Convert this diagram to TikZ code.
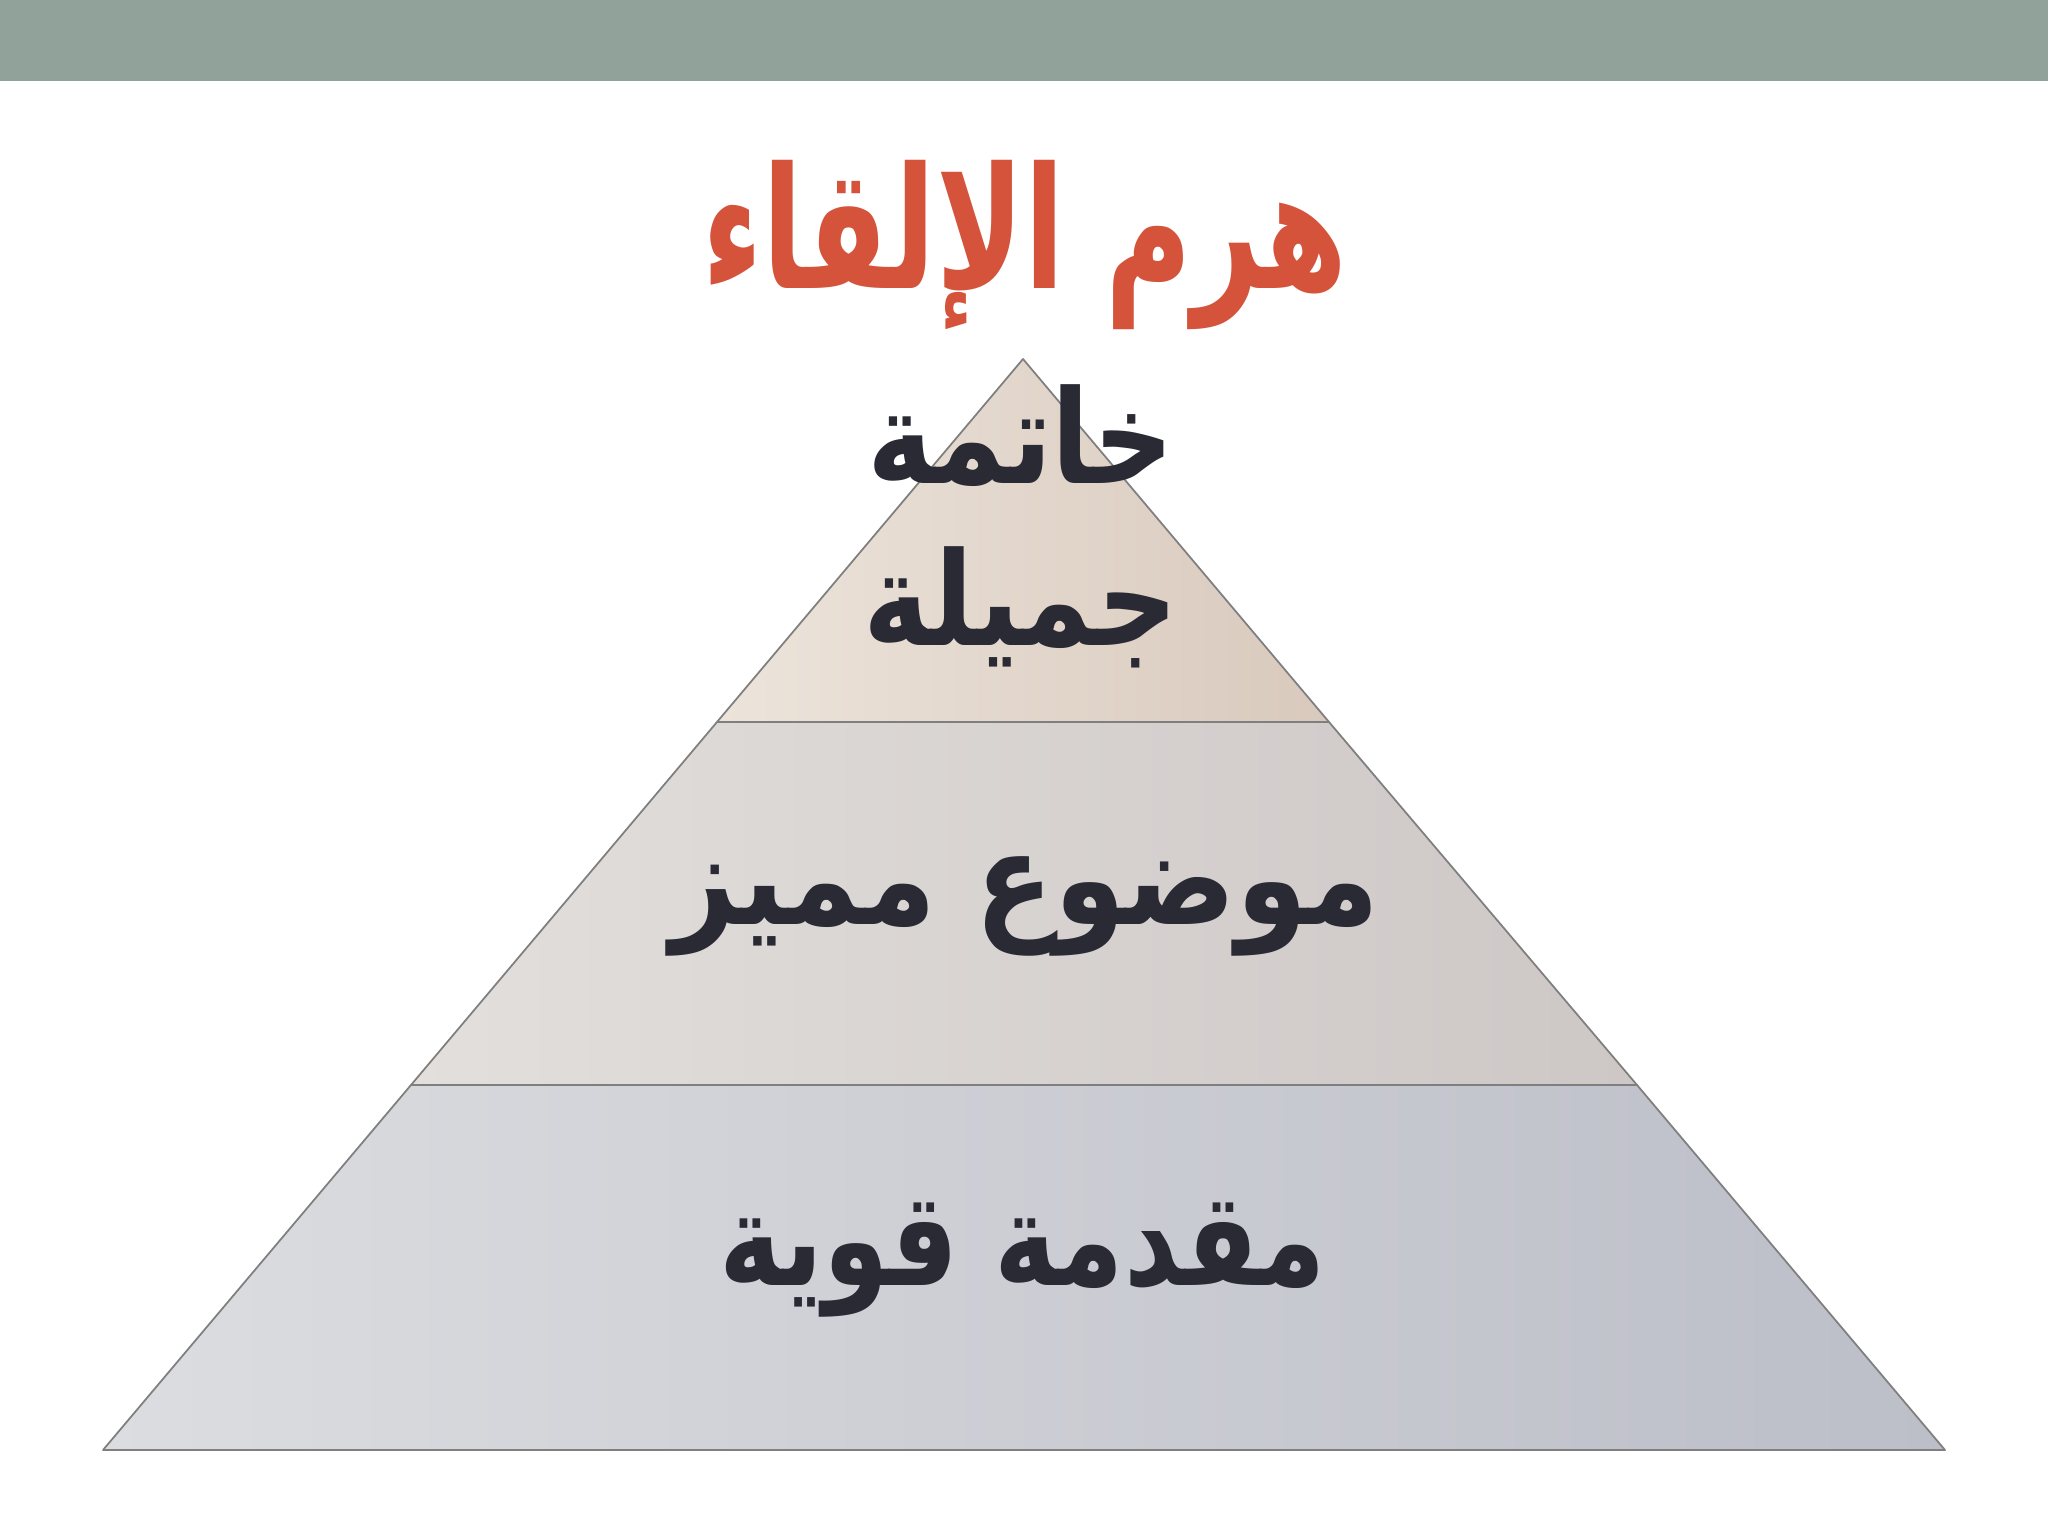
\documentclass[tikz,border=0pt]{standalone}
\usepackage{fontspec}
\newfontfamily\arabicfont[Script=Arabic]{DejaVu Sans}
\TeXXeTstate=1
\definecolor{barcol}{HTML}{91A29A}
\definecolor{titlecol}{HTML}{D4533A}
\definecolor{inkcol}{HTML}{2A2A35}
\definecolor{edgecol}{HTML}{7F7F7F}
\newcommand{\narrow}[2]{\scalebox{#1}[1]{#2}}
\begin{document}
\begin{tikzpicture}[x=0.01cm,y=-0.01cm,line join=round,
	level/.style={draw=edgecol,line width=0.5pt},
	lbl/.style={text=inkcol,font=\arabicfont\bfseries\fontsize{37}{46}\selectfont,align=center},
	headline/.style={text=titlecol,font=\arabicfont\bfseries\fontsize{48}{52}\selectfont}]
	\useasboundingbox (0,0) rectangle (2048,1536);
	\fill[barcol] (0,0) rectangle (2048,81);
	% corners of the pyramid
	\coordinate (apex) at (1023,359);
	\coordinate (l1) at (717,722); \coordinate (r1) at (1329,722);
	\coordinate (l2) at (411,1085); \coordinate (r2) at (1637,1085);
	\coordinate (l3) at (103,1450); \coordinate (r3) at (1945,1450);
	\shade[level,left color={rgb,255:red,220;green,221;blue,224},right color={rgb,255:red,188;green,190;blue,200}] (l2)--(r2)--(r3)--(l3)--cycle;
	\shade[level,left color={rgb,255:red,226;green,223;blue,220},right color={rgb,255:red,205;green,199;blue,198}] (l1)--(r1)--(r2)--(l2)--cycle;
	\shade[level,left color={rgb,255:red,236;green,228;blue,219},right color={rgb,255:red,217;green,201;blue,189}] (apex)--(r1)--(l1)--cycle;
	\node[headline] (title) at (1025,245) {\narrow{0.7}{\beginR هرم الإلقاء\endR}};
	\node[lbl] (top) at (1021,526) {\narrow{0.86}{\beginR خاتمة\endR}\\\narrow{0.86}{\beginR جميلة\endR}};
	\node[lbl] (mid) at (1025,906) {\narrow{0.88}{\beginR موضوع مميز\endR}};
	\node[lbl] (low) at (1023,1260) {\narrow{0.81}{\beginR مقدمة قوية\endR}};
\end{tikzpicture}
\end{document}
